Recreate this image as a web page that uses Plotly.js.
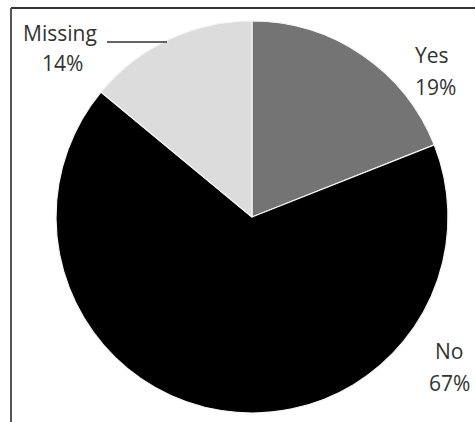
<!DOCTYPE html>
<html>
<head>
<meta charset="utf-8">
<script src="https://cdn.plot.ly/plotly-3.0.1.min.js"></script>
<style>html,body{margin:0;padding:0;background:#fff;}#chart{width:475px;height:422px;}</style>
</head>
<body>
<div id="chart"></div>
<script>
var categories = ["Yes", "No", "Missing"];
var percents = [19, 67, 14];
var sliceColors = ["#747474", "#000000", "#dcdcdc"];

var W = 475, H = 422;
var cx = 252, cy = 217, r = 196;

// label centre (name line, percent line)
var labelPos = [
  {x: 432, y1: 55, x2: 435, y2: 87},
  {x: 449, y1: 351, x2: 449, y2: 383},
  {x: 60, y1: 33, x2: 62, y2: 63}
];

var trace = {
  type: "pie",
  labels: categories,
  values: percents,
  sort: false,
  direction: "clockwise",
  rotation: 0,
  textinfo: "none",
  hoverinfo: "label+percent",
  marker: {colors: sliceColors, line: {color: "#f4f4f4", width: 1.2}},
  domain: {x: [(cx - r) / W, (cx + r) / W], y: [(H - cy - r) / H, (H - cy + r) / H]},
  showlegend: false
};

var font = {family: "'Open Sans', sans-serif", size: 21, color: "#333333"};
var annotations = [];
categories.forEach(function (c, i) {
  annotations.push({
    xref: "paper", yref: "paper",
    x: labelPos[i].x / W, y: 1 - labelPos[i].y1 / H,
    xanchor: "center", yanchor: "middle",
    text: c, showarrow: false, font: font
  });
  annotations.push({
    xref: "paper", yref: "paper",
    x: labelPos[i].x2 / W, y: 1 - labelPos[i].y2 / H,
    xanchor: "center", yanchor: "middle",
    text: percents[i] + "%", showarrow: false, font: font
  });
});

var layout = {
  width: W, height: H,
  margin: {l: 0, r: 0, t: 0, b: 0},
  paper_bgcolor: "#ffffff",
  annotations: annotations,
  shapes: [
    {type: "line", xref: "paper", yref: "paper", x0: 11 / W, x1: 1, y0: 1 - 8 / H, y1: 1 - 8 / H, line: {color: "#333333", width: 2}},
    {type: "line", xref: "paper", yref: "paper", x0: 11 / W, x1: 11 / W, y0: 0, y1: 1 - 8 / H, line: {color: "#555555", width: 2}},
    {type: "line", xref: "paper", yref: "paper", x0: 107 / W, x1: 167 / W, y0: 1 - 42 / H, y1: 1 - 42 / H, line: {color: "#333333", width: 1.5}}
  ]
};

Plotly.newPlot("chart", [trace], layout, {displayModeBar: false, staticPlot: true});
</script>
</body>
</html>
